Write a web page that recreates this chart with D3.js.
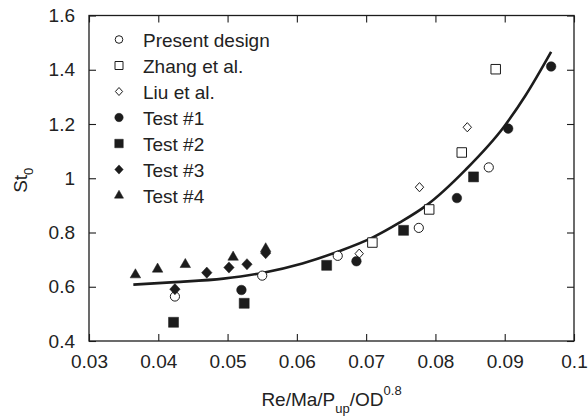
<!DOCTYPE html>
<html>
<head>
<meta charset="utf-8">
<script src="https://cdn.jsdelivr.net/npm/d3@7"></script>
<style>
  body { margin: 0; background: #fff; }
  svg { display: block; }
  text { font-family: "Liberation Sans", Arial, Helvetica, sans-serif; fill: #222; }
</style>
</head>
<body>
<svg id="chart" width="588" height="420"></svg>
<script>
// Axis ticks
const xTicks = [0.03, 0.04, 0.05, 0.06, 0.07, 0.08, 0.09, 0.1];
const xTickLabels = ["0.03", "0.04", "0.05", "0.06", "0.07", "0.08", "0.09", "0.1"];
const yTicks = [0.4, 0.6, 0.8, 1.0, 1.2, 1.4, 1.6];
const yTickLabels = ["0.4", "0.6", "0.8", "1", "1.2", "1.4", "1.6"];

// Series: Re/Ma/P_up/OD^0.8 vs St_0
const seriesNames = ["Present design", "Zhang et al.", "Liu et al.", "Test #1", "Test #2", "Test #3", "Test #4"];

const presentX = [0.0424, 0.0550, 0.0659, 0.0776, 0.0877];
const presentY = [0.564, 0.641, 0.714, 0.817, 1.040];

const zhangX = [0.0709, 0.0791, 0.0838, 0.0887];
const zhangY = [0.763, 0.885, 1.095, 1.402];

const liuX = [0.0690, 0.0777, 0.0846];
const liuY = [0.722, 0.967, 1.188];

const test1X = [0.0520, 0.0686, 0.0831, 0.0905, 0.0967];
const test1Y = [0.588, 0.694, 0.927, 1.183, 1.412];

const test2X = [0.0422, 0.0524, 0.0643, 0.0754, 0.0855];
const test2Y = [0.469, 0.539, 0.679, 0.808, 1.005];

const test3X = [0.0424, 0.0470, 0.0502, 0.0528, 0.0555];
const test3Y = [0.591, 0.652, 0.671, 0.683, 0.724];

const test4X = [0.0367, 0.0399, 0.0439, 0.0508, 0.0555];
const test4Y = [0.644, 0.665, 0.682, 0.709, 0.740];

// Correlation curve
const fitX = [0.0364, 0.0424, 0.0494, 0.0550, 0.0608, 0.0661, 0.0709, 0.0748, 0.0787, 0.0843, 0.0899, 0.0930, 0.0967];
const fitY = [0.608, 0.617, 0.630, 0.651, 0.686, 0.731, 0.781, 0.836, 0.900, 1.030, 1.190, 1.305, 1.466];

const svg = d3.select("#chart");
const ink = "#1c1c1c";

const x = d3.scaleLinear().domain([0.03, 0.1]).range([89, 574]);
const y = d3.scaleLinear().domain([0.4, 1.6]).range([341, 15.5]);

// Custom diamond symbol with separate half-width / half-height
function diamond(hw, hh) {
  return {
    draw(ctx) {
      ctx.moveTo(0, -hh);
      ctx.lineTo(hw, 0);
      ctx.lineTo(0, hh);
      ctx.lineTo(-hw, 0);
      ctx.closePath();
    }
  };
}

// Marker styles for plot and legend
const styles = {
  "Present design": { plot: d3.symbol(d3.symbolCircle, Math.PI * 4.6 * 4.6), leg: d3.symbol(d3.symbolCircle, Math.PI * 3.8 * 3.8), filled: false },
  "Zhang et al.":   { plot: d3.symbol(d3.symbolSquare, 9.5 * 9.5), leg: d3.symbol(d3.symbolSquare, 8 * 8), filled: false },
  "Liu et al.":     { plot: d3.symbol(diamond(4.2, 4.6)), leg: d3.symbol(diamond(3.6, 4.0)), filled: false },
  "Test #1":        { plot: d3.symbol(d3.symbolCircle, Math.PI * 4.8 * 4.8), leg: d3.symbol(d3.symbolCircle, Math.PI * 4.2 * 4.2), filled: true },
  "Test #2":        { plot: d3.symbol(d3.symbolSquare, 10 * 10), leg: d3.symbol(d3.symbolSquare, 8.5 * 8.5), filled: true },
  "Test #3":        { plot: d3.symbol(diamond(5.2, 5.6)), leg: d3.symbol(diamond(4.2, 4.6)), filled: true },
  "Test #4":        { plot: d3.symbol(d3.symbolTriangle, 48), leg: d3.symbol(d3.symbolTriangle, 36), filled: true }
};

const seriesData = {
  "Present design": [presentX, presentY],
  "Zhang et al.": [zhangX, zhangY],
  "Liu et al.": [liuX, liuY],
  "Test #1": [test1X, test1Y],
  "Test #2": [test2X, test2Y],
  "Test #3": [test3X, test3Y],
  "Test #4": [test4X, test4Y]
};

// Axes: ticks point inward on all four sides
const fontSize = 19;
const gB = svg.append("g").attr("transform", `translate(0,${y(0.4)})`)
  .call(d3.axisBottom(x).tickValues(xTicks).tickFormat((d, i) => xTickLabels[i])
    .tickSizeInner(-7).tickSizeOuter(0).tickPadding(14));
const gL = svg.append("g").attr("transform", `translate(${x(0.03)},0)`)
  .call(d3.axisLeft(y).tickValues(yTicks).tickFormat((d, i) => yTickLabels[i])
    .tickSizeInner(-7).tickSizeOuter(0).tickPadding(14));
const gT = svg.append("g").attr("transform", `translate(0,${y(1.6)})`)
  .call(d3.axisTop(x).tickValues(xTicks).tickFormat("").tickSizeInner(-7).tickSizeOuter(0));
const gR = svg.append("g").attr("transform", `translate(${x(0.1)},0)`)
  .call(d3.axisRight(y).tickValues(yTicks).tickFormat("").tickSizeInner(-7).tickSizeOuter(0));

[gB, gL, gT, gR].forEach(g => {
  g.select(".domain").remove();
  g.selectAll(".tick line").attr("stroke", ink).attr("stroke-width", 1.1);
  g.selectAll(".tick text").attr("font-size", fontSize).attr("font-family", null).style("fill", "#222");
});

// Plot frame
svg.append("rect")
  .attr("x", x(0.03)).attr("y", y(1.6))
  .attr("width", x(0.1) - x(0.03)).attr("height", y(0.4) - y(1.6))
  .attr("fill", "none").attr("stroke", ink).attr("stroke-width", 1.3);

// Correlation curve
const fitPts = fitX.map((v, i) => [v, fitY[i]]);
svg.append("path")
  .datum(fitPts)
  .attr("d", d3.line().x(d => x(d[0])).y(d => y(d[1])).curve(d3.curveMonotoneX))
  .attr("fill", "none").attr("stroke", ink).attr("stroke-width", 2.6);

// Data markers
seriesNames.forEach(name => {
  const [xs, ys] = seriesData[name];
  const st = styles[name];
  svg.append("g").selectAll("path")
    .data(xs.map((v, i) => [v, ys[i]]))
    .join("path")
    .attr("transform", d => `translate(${x(d[0])},${y(d[1])})`)
    .attr("d", st.plot)
    .attr("fill", st.filled ? ink : "#fff")
    .attr("stroke", ink)
    .attr("stroke-width", st.filled ? 0.5 : 1);
});

// Legend
const legX = 119, legTextX = 143, legY0 = 39.5, legDY = 26;
const leg = svg.append("g");
seriesNames.forEach((name, i) => {
  const st = styles[name];
  const cy = legY0 + i * legDY;
  leg.append("path")
    .attr("transform", `translate(${legX},${cy})`)
    .attr("d", st.leg)
    .attr("fill", st.filled ? ink : "#fff")
    .attr("stroke", ink)
    .attr("stroke-width", st.filled ? 0.5 : 1);
  leg.append("text")
    .attr("x", legTextX).attr("y", cy + 7)
    .attr("font-size", fontSize)
    .text(name);
});

// X-axis title
const xt = svg.append("text")
  .attr("x", (x(0.03) + x(0.1)) / 2).attr("y", 406)
  .attr("text-anchor", "middle")
  .attr("font-size", fontSize);
xt.append("tspan").text("Re/Ma/P");
xt.append("tspan").attr("font-size", 13).attr("dy", 7).text("up");
xt.append("tspan").attr("dy", -7).text("/OD");
xt.append("tspan").attr("font-size", 13).attr("dy", -11).text("0.8");

// Y-axis title
const yt = svg.append("text")
  .attr("transform", `translate(27,${y(1.0) + 2}) rotate(-90)`)
  .attr("text-anchor", "middle")
  .attr("font-size", fontSize);
yt.append("tspan").text("St");
yt.append("tspan").attr("font-size", 13).attr("dy", 6).text("0");
</script>
</body>
</html>
